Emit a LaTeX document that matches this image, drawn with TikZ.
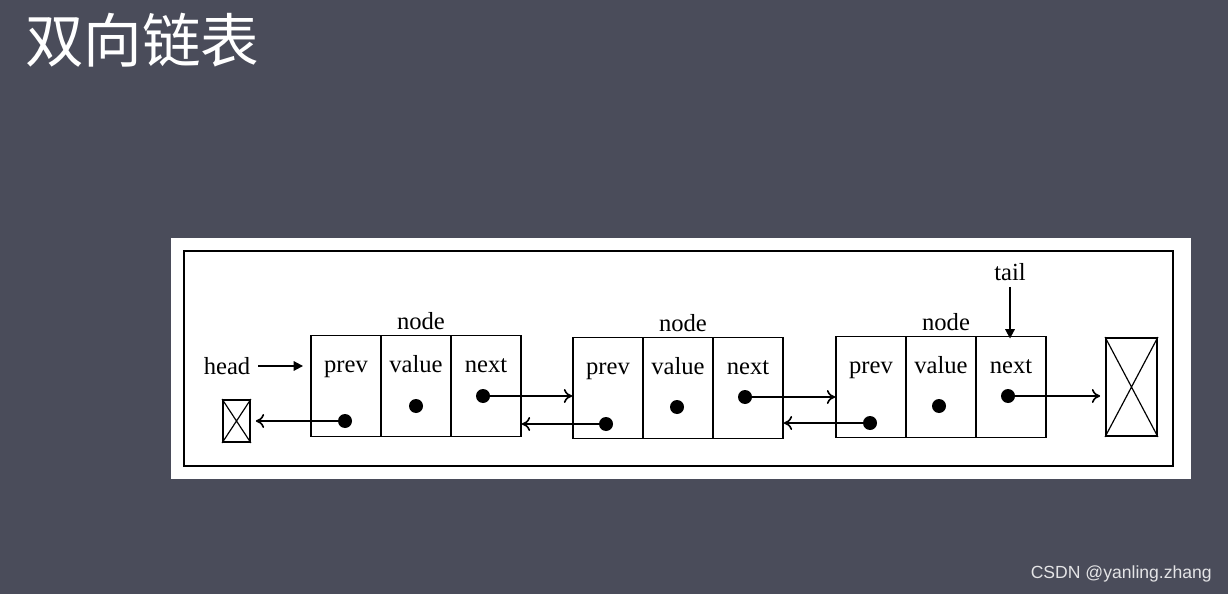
\documentclass[tikz,border=0pt]{standalone}
\usepackage{fontspec}
\setmainfont{Liberation Serif}
\newfontfamily\cjk{Noto Sans CJK SC}
\newfontfamily\wsans{Liberation Sans}
\usetikzlibrary{arrows.meta}
\definecolor{bg}{HTML}{4A4C5A}
\begin{document}
\begin{tikzpicture}[x=0.03cm,y=-0.03cm,
  lbl/.style={font=\fontsize{21}{21}\selectfont,inner sep=0pt,anchor=base},
  cell/.style={draw,line width=1.6pt,minimum width=70*0.03cm,minimum height=101*0.03cm,inner sep=0pt},
  dot/.style={circle,fill=black,inner sep=0pt,minimum size=14*0.03cm},
  ptr/.style={line width=1.4pt,-{To[length=7pt,width=12pt]}},
  bold/.style={line width=1.6pt,-{Triangle[length=8pt,width=8pt]}}]
\fill[bg] (0,0) rectangle (1228,594);
\useasboundingbox (0,0) rectangle (1228,594);
\node[text=white,font=\cjk\fontsize{50}{50}\selectfont,anchor=west,inner sep=0pt] (title) at (25,40) {双向链表};
\node[text=white!85!bg,font=\wsans\fontsize{15}{15}\selectfont,anchor=east,inner sep=0pt] (wm) at (1212,574) {CSDN @yanling.zhang};
\fill[white] (171,238) rectangle (1191,479);
\draw[line width=1.4pt] (184,251) rectangle (1173,466);
% nodes
\foreach \i/\x/\y in {1/311/386,2/573/388,3/836/387}{
  \node[cell] (p\i) at (\x+35,\y) {};
  \node[cell] (v\i) at (\x+105,\y) {};
  \node[cell] (n\i) at (\x+175,\y) {};
  \node[lbl] (tp\i) at (\x+35,\y-14) {prev};
  \node[lbl] (tv\i) at (\x+105,\y-14) {value};
  \node[lbl] (tn\i) at (\x+175,\y-14) {next};
  \node[lbl] (nl\i) at (\x+110,\y-57) {node};
}
\node[dot] (dp1) at (345,421) {}; \node[dot] (dv1) at (416,406) {}; \node[dot] (dn1) at (483,396) {};
\node[dot] (dp2) at (606,424) {}; \node[dot] (dv2) at (677,407) {}; \node[dot] (dn2) at (745,397) {};
\node[dot] (dp3) at (870,423) {}; \node[dot] (dv3) at (939,406) {}; \node[dot] (dn3) at (1008,396) {};
% null boxes
\node[draw,line width=1.6pt,minimum width=27*0.03cm,minimum height=42*0.03cm,inner sep=0pt] (null1) at (236.5,421) {};
\draw[line width=1pt] (null1.north west) -- (null1.south east) (null1.north east) -- (null1.south west);
\node[draw,line width=1.6pt,minimum width=51*0.03cm,minimum height=98*0.03cm,inner sep=0pt] (null2) at (1131.5,387) {};
\draw[line width=1pt] (null2.north west) -- (null2.south east) (null2.north east) -- (null2.south west);
% pointers
\draw[ptr] (dn1.center) -- (dn1.center -| p2.west);
\draw[ptr] (dn2.center) -- (dn2.center -| p3.west);
\draw[ptr] (dn3.center) -- ([xshift=-5*0.03cm]dn3.center -| null2.west);
\draw[ptr] (dp1.center) -- ([xshift=5*0.03cm]dp1.center -| null1.east);
\draw[ptr] (dp2.center) -- (dp2.center -| n1.east);
\draw[ptr] (dp3.center) -- (dp3.center -| n2.east);
% head / tail
\node[lbl,anchor=center] (head) at (227,366) {head};
\draw[bold] (head.east) ++(8*0.03cm,0) coordinate (h0) -- ([xshift=-7*0.03cm]p1.west |- head.east);
\node[lbl,anchor=center] (tail) at (1010,272) {tail};
\draw[bold] ([yshift=-6*0.03cm]tail.south) -- ([yshift=-3*0.03cm]tail.south |- n3.north);
\end{tikzpicture}
\end{document}
